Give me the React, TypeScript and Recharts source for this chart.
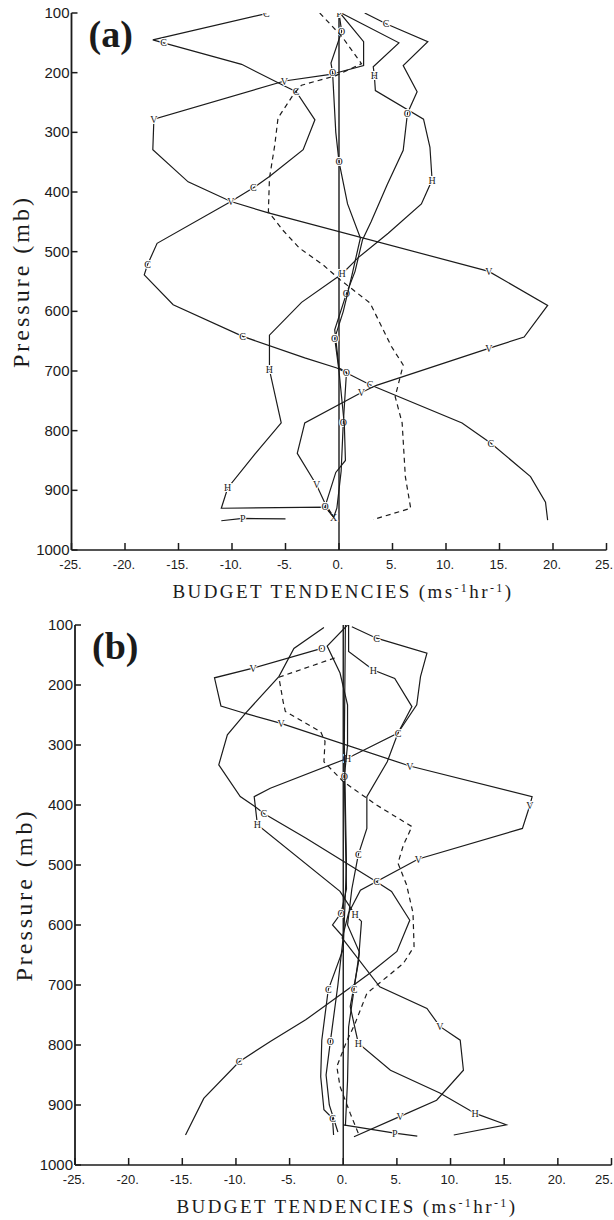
import React from "react";
import { ScatterChart, Scatter, XAxis, YAxis, ReferenceLine, Label } from "recharts";

type Pt = [number, number, string?];

// axis ticks
const X_TICKS = [-25, -20, -15, -10, -5, 0, 5, 10, 15, 20, 25];
const P_TICKS = [100, 200, 300, 400, 500, 600, 700, 800, 900, 1000];

// panel (a) profiles: [tendency, pressure, marker]
const A_C: Pt[] = [
  [-6.8, 101, "C"], [-17.4, 145], [-16.4, 150, "C"], [-9.1, 186], [-4.9, 224], [-4.0, 232, "C"],
  [-2.25, 279], [-3.35, 329], [-6.5, 374], [-8.0, 393, "C"], [-10.1, 416], [-17.0, 486],
  [-17.9, 522, "C"], [-18.2, 539], [-15.5, 589], [-9.0, 642, "C"], [-3.2, 678], [-0.2, 695],
  [2.9, 723, "C"], [11.5, 787], [14.2, 821, "C"], [17.9, 877], [19.3, 920], [19.5, 950],
];
const A_V: Pt[] = [
  [0.1, 100], [2.3, 148], [2.3, 188], [-0.8, 203], [-5.1, 214, "V"], [-17.3, 278, "V"],
  [-17.4, 329], [-14.1, 383], [-10.1, 416, "V"], [-6.6, 435], [14.0, 533, "V"], [19.5, 590],
  [17.3, 643], [14.0, 662, "V"], [3.5, 724], [2.1, 736, "V"], [-3.2, 787], [-3.9, 838],
  [-2.1, 891, "V"], [-1.3, 922], [-0.5, 945, "X"],
];
const A_H: Pt[] = [
  [0.2, 100], [5.6, 150], [3.2, 190], [3.3, 204, "H"], [3.4, 230], [7.9, 278], [8.5, 325],
  [8.7, 380, "H"], [7.7, 420], [4.6, 469], [1.8, 510], [0.3, 537, "H"], [-3.5, 585],
  [-6.5, 640], [-6.5, 698, "H"], [-5.4, 787], [-7.9, 840], [-10.4, 896, "H"], [-11.0, 930],
  [-1.3, 928], [-0.5, 945],
];
const A_O: Pt[] = [
  [2.4, 100], [4.4, 118, "C"], [8.3, 148], [6.0, 188], [7.3, 232], [6.4, 268, "O"], [6.0, 330],
  [4.5, 388], [3.0, 450], [2.2, 480], [1.5, 533], [0.7, 570, "O"], [-0.4, 631], [0.0, 695],
  [0.7, 702, "O"], [0.4, 787, "O"], [0.2, 868], [-0.2, 930], [-0.5, 945],
];
const A_N: Pt[] = [
  [0.0, 100, "P"], [0.25, 131, "O"], [-0.75, 184], [-0.6, 200, "O"], [-0.3, 300], [0.0, 349, "O"],
  [0.8, 420], [2.0, 477], [1.2, 540], [0.4, 600], [-0.4, 645, "O"], [0.0, 700], [0.5, 790],
  [0.6, 850], [-0.3, 870], [-1.3, 927, "O"], [-0.5, 945],
];
const A_P: Pt[] = [[-11.0, 951], [-9.0, 947, "P"], [-5.0, 948]];
const A_DASH: Pt[] = [
  [-1.8, 100], [0.3, 140], [2.1, 185], [-0.3, 205], [-3.5, 221], [-4.2, 235], [-5.7, 276],
  [-6.0, 321], [-6.5, 377], [-6.6, 433], [-5.2, 465], [-3.7, 494], [-1.5, 522], [0.1, 547],
  [2.9, 586], [4.9, 659], [6.0, 690], [5.25, 743], [5.9, 787], [6.2, 877], [6.7, 930], [3.2, 949],
];

// panel (b) profiles
const B_V: Pt[] = [
  [-2.0, 139, "O"], [-8.4, 172, "V"], [-12.0, 188], [-11.4, 235], [-9.2, 247], [-5.8, 264, "V"],
  [6.2, 335, "V"], [17.6, 386], [17.4, 400, "V"], [16.7, 439], [7.0, 490, "V"], [1.6, 542],
  [0.5, 580], [-0.1, 622], [3.4, 703], [7.8, 739], [9.0, 769, "V"], [10.9, 792], [11.2, 842],
  [8.7, 892], [5.3, 919, "V"], [1.0, 953],
];
const B_CL: Pt[] = [
  [-1.8, 104], [-4.6, 139], [-6.0, 186], [-9.1, 247], [-10.8, 283], [-11.6, 333], [-9.6, 386],
  [-8.2, 403], [-7.4, 414, "C"], [-3.5, 455], [3.1, 528, "C"], [4.5, 544], [6.2, 592],
  [5.0, 644], [2.5, 680], [0.6, 705], [-3.5, 758], [-6.8, 794], [-9.7, 828, "C"], [-13.0, 889],
  [-14.7, 950],
];
const B_H: Pt[] = [
  [0.5, 100], [0.5, 144], [2.8, 175, "H"], [4.8, 189], [6.4, 236], [5.1, 280], [0.4, 322, "H"],
  [-6.8, 372], [-8.3, 386], [-8.0, 433, "H"], [-0.3, 544], [1.1, 583, "H"], [1.7, 594],
  [1.4, 664], [0.65, 736], [1.4, 797, "H"], [4.4, 842], [9.0, 880], [12.3, 914, "H"],
  [15.2, 933], [10.3, 950],
];
const B_CR: Pt[] = [
  [0.8, 103], [3.1, 122, "C"], [7.8, 147], [7.2, 186], [6.85, 233], [5.1, 280, "C"], [4.1, 328],
  [2.2, 386], [2.2, 439], [1.4, 483, "C"], [0.8, 540], [0.4, 600], [1.5, 645], [1.0, 708, "C"],
  [0.5, 770], [0.4, 860], [0.2, 935],
];
const B_N1: Pt[] = [
  [0.4, 100], [-1.5, 135], [-0.3, 180], [0.4, 233], [0.4, 300], [0.1, 353, "O"], [0.2, 450],
  [0.3, 540], [-0.2, 580, "O"], [-1.0, 600], [0.0, 620], [-0.5, 700], [-1.2, 794, "O"],
  [-1.6, 850], [-1.3, 900], [-0.5, 945],
];
const B_N2: Pt[] = [
  [0.2, 100], [0.1, 300], [0.3, 500], [0.0, 640], [-1.4, 708, "C"], [-2.0, 792], [-2.1, 853],
  [-1.8, 908], [-1.0, 922, "C"], [-0.9, 950],
];
const B_P: Pt[] = [[0.0, 933], [4.8, 947, "P"], [6.9, 952]];
const B_DASH: Pt[] = [
  [-0.8, 155], [-6.0, 187], [-5.6, 228], [-5.4, 244], [-2.1, 278], [-1.7, 294], [-1.8, 328],
  [0.0, 361], [3.1, 400], [6.4, 436], [5.6, 467], [5.1, 497], [5.9, 533], [6.5, 580], [6.6, 636],
  [5.6, 664], [2.2, 714], [1.1, 764], [0.25, 797], [-0.6, 836], [-0.3, 869], [0.65, 914],
  [1.4, 947],
];

const INK = "#1b1b1b";

const rows = (pts: Pt[]) => pts.map(([v, p, m]) => ({ v, p, m: m || "" }));

const Marker = (props: any) => {
  const { cx, cy, payload } = props;
  if (!payload || !payload.m) return <g />;
  return (
    <text
      x={cx}
      y={cy + 3.5}
      textAnchor="middle"
      fontSize={10}
      fontFamily="Liberation Serif"
      fill={INK}
      stroke="#fff"
      strokeWidth={2}
      paintOrder="stroke"
    >
      {payload.m}
    </text>
  );
};

const XTick = (props: any) => {
  const { x, y, payload } = props;
  // the last label runs off the page edge, as in the scan
  const atEdge = x > 600;
  return (
    <g>
      <line x1={x} x2={x} y1={y} y2={y - 7} stroke={INK} strokeWidth={1.5} />
      <text
        x={atEdge ? 613 : x - 1}
        y={y + 19}
        textAnchor={atEdge ? "end" : "middle"}
        fontSize={13}
        fontFamily="Liberation Sans"
        fill={INK}
      >
        {payload.value + "."}
      </text>
    </g>
  );
};

const YTick = (props: any) => {
  const { x, y, payload } = props;
  return (
    <g>
      <line x1={x} x2={x + 6} y1={y} y2={y} stroke={INK} strokeWidth={1.5} />
      <text x={x - 2} y={y + 5} textAnchor="end" fontSize={15} fontFamily="Liberation Sans" fill={INK}>
        {payload.value}
      </text>
    </g>
  );
};

interface PanelProps {
  tag: string;
  lines: Pt[][];
  dashed: Pt[];
  height: number;
  left: number;
  right: number;
  bottom: number;
  titleX: number;
  pressX: number;
}

const Panel = ({ tag, lines, dashed, height, left, right, bottom, titleX, pressX }: PanelProps) => {
  const plotBottom = height - bottom - 40;
  const plotMid = (13 + plotBottom) / 2;
  return (
    <ScatterChart width={614} height={height} margin={{ top: 13, right, bottom, left: 0 }}>
      <XAxis
        type="number"
        dataKey="v"
        domain={[-25, 25]}
        ticks={X_TICKS}
        interval={0}
        allowDataOverflow
        height={40}
        tickSize={0}
        tickMargin={0}
        tick={<XTick />}
        axisLine={{ stroke: INK, strokeWidth: 1.6 }}
      >
        <Label
          content={() => (
            <text
              x={titleX}
              y={plotBottom + 48}
              textAnchor="middle"
              fontSize={19}
              letterSpacing={2.4}
              fontFamily="Liberation Serif"
              fill={INK}
            >
              BUDGET TENDENCIES (ms
              <tspan dy={-6} fontSize={12}>-1</tspan>
              <tspan dy={6}>hr</tspan>
              <tspan dy={-6} fontSize={12}>-1</tspan>
              <tspan dy={6}>)</tspan>
            </text>
          )}
        />
      </XAxis>
      <YAxis
        type="number"
        dataKey="p"
        domain={[100, 1000]}
        reversed
        ticks={P_TICKS}
        interval={0}
        allowDataOverflow
        width={left}
        tickSize={0}
        tickMargin={0}
        tick={<YTick />}
        axisLine={{ stroke: INK, strokeWidth: 1.8 }}
      >
        <Label
          content={() => (
            <g>
              <text
                x={pressX}
                y={plotMid}
                transform={`rotate(-90 ${pressX} ${plotMid})`}
                textAnchor="middle"
                fontSize={24}
                letterSpacing={3}
                fontFamily="Liberation Serif"
                fill={INK}
              >
                Pressure (mb)
              </text>
              <text x={left + 17} y={47} fontSize={38} fontWeight="bold" fontFamily="Liberation Serif" fill={INK}>
                {tag}
              </text>
            </g>
          )}
        />
      </YAxis>
      <ReferenceLine x={0} stroke={INK} strokeWidth={1.4} />
      {lines.map((pts, i) => (
        <Scatter
          key={i}
          data={rows(pts)}
          fill={INK}
          line={{ stroke: INK, strokeWidth: 1.2 }}
          lineType="joint"
          shape={Marker}
          isAnimationActive={false}
        />
      ))}
      <Scatter
        data={rows(dashed)}
        fill={INK}
        line={{ stroke: INK, strokeWidth: 1.2, strokeDasharray: "5 4" }}
        lineType="joint"
        shape={Marker}
        isAnimationActive={false}
      />
    </ScatterChart>
  );
};

export default function App() {
  return (
    <div style={{ position: "absolute", left: 0, top: 0, width: 614, height: 1220, background: "#fff" }}>
      <Panel
        tag="(a)"
        lines={[A_C, A_V, A_H, A_O, A_N, A_P]}
        dashed={A_DASH}
        height={612}
        left={71.5}
        right={7.5}
        bottom={22}
        titleX={343}
        pressX={29}
      />
      <Panel
        tag="(b)"
        lines={[B_V, B_CL, B_H, B_CR, B_N1, B_N2, B_P]}
        dashed={B_DASH}
        height={608}
        left={75}
        right={2.5}
        bottom={15}
        titleX={347}
        pressX={32}
      />
    </div>
  );
}
